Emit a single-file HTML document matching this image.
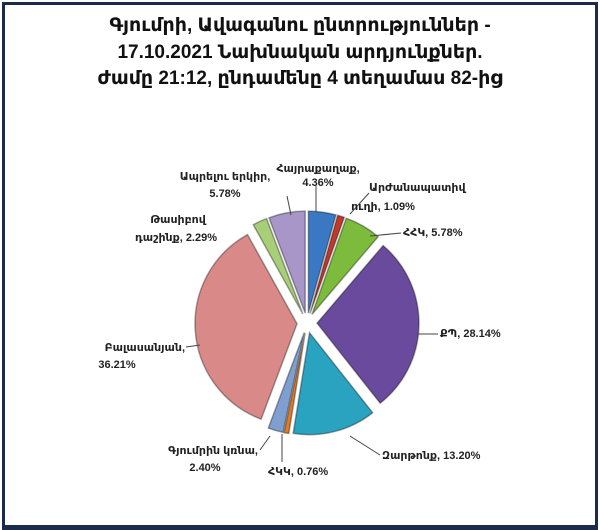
<!DOCTYPE html>
<html><head><meta charset="utf-8"><style>
html,body{margin:0;padding:0;background:#fff;}
#wrap{position:relative;width:600px;height:530px;overflow:hidden;background:#fff;}
#frame{position:absolute;left:2px;top:2px;width:590px;height:520px;border:3px solid #1c2b4a;border-bottom-width:5px;}
.t{position:absolute;left:0;width:600px;text-align:center;font:bold 19px "Liberation Sans","DejaVu Sans",sans-serif;color:#111;}
svg{position:absolute;left:0;top:0;}
svg text{font-family:"Liberation Sans","DejaVu Sans",sans-serif;font-size:11px;font-weight:bold;fill:#222;}
</style></head><body><div id="wrap">
<div id="frame"></div>
<div class="t" style="top:14px">Գյումրի, Ավագանու ընտրություններ -</div>
<div class="t" style="top:41px">17.10.2021 Նախնական արդյունքներ.</div>
<div class="t" style="top:67px">ժամը 21:12, ընդամենը 4 տեղամաս 82-ից</div>
<svg id="s" width="600" height="530" viewBox="0 0 600 530">
<g id="pie"></g>
<g stroke="#444" stroke-width="1" fill="none">
<line x1="316" y1="186" x2="316" y2="212"/>
<polyline points="369,193 350,214"/>
<polyline points="401,233 370,236"/>
<polyline points="438,334 418,334"/>
<polyline points="380,455 350,436"/>
<line x1="282" y1="434" x2="282" y2="462"/>
<polyline points="260,450 270,436"/>
<polyline points="186,347 200,345"/>
<polyline points="287,196 291,215"/>
</g>
<text x="318" y="172" text-anchor="middle">Հայրաքաղաք,</text>
<text x="318" y="186" text-anchor="middle">4.36%</text>
<text x="369" y="191">Արժանապատիվ</text>
<text x="383" y="210" text-anchor="middle">ուղի, 1.09%</text>
<text x="403" y="236">ՀՀԿ, 5.78%</text>
<text x="440" y="337">ՔՊ, 28.14%</text>
<text x="382" y="459">Զարթոնք, 13.20%</text>
<text x="268" y="475">ՀԿԿ, 0.76%</text>
<text x="258" y="454" text-anchor="end">Գյումրին կռնա,</text>
<text x="205" y="471" text-anchor="middle">2.40%</text>
<text x="185" y="351" text-anchor="end">Բալասանյան,</text>
<text x="117" y="368" text-anchor="middle">36.21%</text>
<text x="178" y="223" text-anchor="middle">Թասիբով</text>
<text x="176" y="241" text-anchor="middle">դաշինք, 2.29%</text>
<text x="225" y="180" text-anchor="middle">Ապրելու երկիր,</text>
<text x="225" y="197" text-anchor="middle">5.78%</text>
</svg>
</div>
<script>
var d=[[4.36,"#3a78c4"],[1.09,"#c0392b"],[5.78,"#7dbb3c"],[28.14,"#6a4a9c"],[13.20,"#2aa3c0"],[0.76,"#e07b28"],[2.40,"#7f9fd0"],[36.21,"#d98a88"],[2.29,"#a8cf78"],[5.78,"#a996c8"]];
var tot=0;d.forEach(function(x){tot+=x[0];});
var cx=307,cy=323,r=102,ex=10,a=0,g=document.getElementById("pie"),h="";
d.forEach(function(x){
 var s=a,e=a+x[0]/tot*2*Math.PI,m=(s+e)/2;a=e;
 var ox=cx+ex*Math.sin(m),oy=cy-ex*Math.cos(m);
 var x1=ox+r*Math.sin(s),y1=oy-r*Math.cos(s),x2=ox+r*Math.sin(e),y2=oy-r*Math.cos(e);
 var lg=(e-s)>Math.PI?1:0;
 h+='<path d="M'+ox+','+oy+' L'+x1+','+y1+' A'+r+','+r+' 0 '+lg+' 1 '+x2+','+y2+' Z" fill="'+x[1]+'" stroke="rgba(0,0,0,0.35)" stroke-width="1.5"/>';
});
g.innerHTML=h;
</script>
</body></html>
